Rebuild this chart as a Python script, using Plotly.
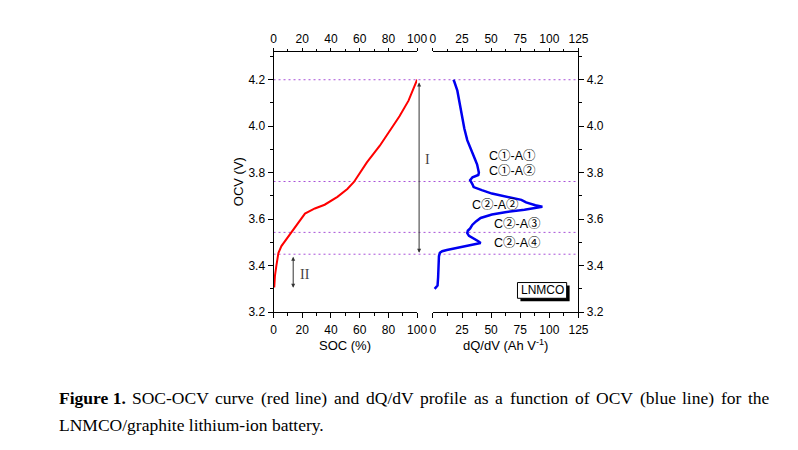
import plotly.graph_objects as go

# ---- data ----
soc = [0.5, 1, 2, 3.4, 5.5, 10.3, 15.1, 21.9, 28.8, 35.6, 44.5, 51.4, 56, 65, 74, 82, 87.7, 94, 100]
ocv = [3.306, 3.357, 3.40, 3.454, 3.484, 3.526, 3.57, 3.624, 3.646, 3.662, 3.696, 3.73, 3.76, 3.844, 3.916, 3.99, 4.043, 4.11, 4.2]

v_dq = [3.300, 3.305, 3.314, 3.35, 3.40, 3.44, 3.455, 3.462, 3.467, 3.475, 3.484, 3.49, 3.497, 3.505,
        3.518, 3.528, 3.54, 3.55, 3.56, 3.575, 3.59, 3.605, 3.62, 3.63, 3.64, 3.648, 3.653, 3.66,
        3.672, 3.683, 3.696, 3.71, 3.725, 3.738, 3.75, 3.758, 3.768, 3.78, 3.79, 3.80, 3.82, 3.835,
        3.86, 3.886, 3.91, 3.94, 3.99, 4.043, 4.10, 4.153, 4.19, 4.2]
dqdv = [1.5, 2.5, 4.0, 4.5, 4.8, 5.2, 6.0, 8.0, 12, 20, 30, 36, 41, 39,
        33.8, 31, 29.5, 30, 32, 33.8, 37, 41, 50.7, 62, 78.6, 90, 94, 88,
        80, 76, 65, 50.7, 42, 35, 34, 33, 32, 34, 39, 39.5, 38.5, 38,
        36, 33.7, 31.5, 29.5, 27, 25, 23, 21, 18.5, 17.7]

ref_v = [4.2, 3.762, 3.543, 3.449]
peak_labels = ["C①-A①", "C①-A②", "C②-A②", "C②-A③", "C②-A④"]
peak_x = [46.5, 46.5, 32.1, 50.7, 50.7]      # left edge, in dQ/dV units
peak_y = [3.87, 3.806, 3.662, 3.577, 3.497]

soc_ticks = [0, 20, 40, 60, 80, 100]
dq_ticks = [0, 25, 50, 75, 100, 125]
v_ticks = [3.2, 3.4, 3.6, 3.8, 4.0, 4.2]

caption_words = ["<b>Figure 1.</b>", "SOC-OCV", "curve", "(red", "line)", "and", "dQ/dV", "profile", "as",
                 "a", "function", "of", "OCV", "(blue", "line)", "for", "the"]
caption_line2 = "LNMCO/graphite lithium-ion battery."

W, H = 798, 450
px = lambda x: x / W
py = lambda y: 1 - y / H

SANS = "Liberation Sans Narrow, Liberation Sans, Arial"
TICKFONT = dict(family=SANS, size=12, color="black")

fig = go.Figure()
fig.add_trace(go.Scatter(x=soc, y=ocv, xaxis="x", yaxis="y", mode="lines",
                         line=dict(color="#ff0000", width=2), hoverinfo="skip"))
fig.add_trace(go.Scatter(x=dqdv, y=v_dq, xaxis="x2", yaxis="y2", mode="lines",
                         line=dict(color="#0000f0", width=2.5), hoverinfo="skip"))
# invisible traces to bind the top axes
fig.add_trace(go.Scatter(x=soc, y=ocv, xaxis="x3", yaxis="y", mode="lines",
                         line=dict(width=0), opacity=0, hoverinfo="skip"))
fig.add_trace(go.Scatter(x=dqdv, y=v_dq, xaxis="x4", yaxis="y2", mode="lines",
                         line=dict(width=0), opacity=0, hoverinfo="skip"))

yr = [3.2, 4.3186]
ydom = [py(317), py(53)]
xdom1 = [px(275), px(421)]
xdom2 = [px(437), px(585)]


def ax_style(tl, mtl, standoff=0):
    return dict(showline=True, linecolor="black", linewidth=1, ticks="outside", ticklen=tl,
                tickcolor="black", showgrid=False, zeroline=False, tickfont=TICKFONT,
                ticklabelstandoff=standoff)


def mnr(dt, t0, tl=3):
    return dict(ticks="outside", ticklen=tl, tickcolor="black", dtick=dt, tick0=t0)


fig.update_layout(
    width=W, height=H, margin=dict(l=0, r=0, t=0, b=0),
    paper_bgcolor="white", plot_bgcolor="rgba(0,0,0,0)", showlegend=False,
    xaxis=dict(domain=xdom1, range=[0, 100], anchor="y", side="bottom", tickvals=soc_ticks,
               minor=mnr(10, 0), **ax_style(5, 3, 2)),
    xaxis3=dict(domain=xdom1, range=[0, 100], anchor="y", side="top", overlaying="x", tickvals=soc_ticks,
                minor=mnr(10, 0, 2), **ax_style(3, 2)),
    xaxis2=dict(domain=xdom2, range=[0, 125], anchor="y2", side="bottom", tickvals=dq_ticks,
                minor=mnr(12.5, 0), **ax_style(5, 3, 2)),
    xaxis4=dict(domain=xdom2, range=[0, 125], anchor="y2", side="top", overlaying="x2", tickvals=dq_ticks,
                minor=mnr(12.5, 0, 2), **ax_style(3, 2)),
    yaxis=dict(domain=ydom, range=yr, anchor="x", side="left", tickvals=v_ticks, tickformat=".1f",
               minor=mnr(0.1, 3.2), **ax_style(5, 3)),
    yaxis2=dict(domain=ydom, range=yr, anchor="x2", side="right", tickvals=v_ticks, tickformat=".1f",
                minor=mnr(0.1, 3.2), **ax_style(5, 3)),
)

shapes = []
for v in ref_v:
    shapes.append(dict(type="line", xref="paper", yref="y", x0=px(275), x1=px(585), y0=v, y1=v,
                       line=dict(color="#a850d8", width=1, dash="2px,3px"), layer="below"))
# LNMCO box with shadow
shapes.append(dict(type="rect", xref="paper", yref="paper", x0=px(526), x1=px(576), y0=py(306), y1=py(290),
                   fillcolor="black", line=dict(width=0)))
shapes.append(dict(type="rect", xref="paper", yref="paper", x0=px(523), x1=px(573), y0=py(303), y1=py(287),
                   fillcolor="white", line=dict(color="black", width=1)))
fig.update_layout(shapes=shapes)

ann = []


def label(text, x, y, size, family=SANS, color="black", angle=0, xanchor="center"):
    ann.append(dict(text=text, x=x, y=y, xref="paper", yref="paper", showarrow=False,
                    xanchor=xanchor, yanchor="middle", textangle=angle,
                    font=dict(family=family, size=size, color=color)))


for t, x, y in zip(peak_labels, peak_x, peak_y):
    ann.append(dict(text=t, x=x, y=y, xref="x2", yref="y2", showarrow=False,
                    xanchor="left", yanchor="middle",
                    font=dict(family="Liberation Sans, Noto Sans CJK SC", size=12.5, color="black")))
label("LNMCO", px(548), py(295), 12)
# arrows
for xa, y_tip, y_tail in [(423, 3.455, 4.195), (295, 3.305, 3.445)]:
    ann.append(dict(x=px(xa), y=y_tip, xref="paper", yref="y", ax=0, ay=y_tail, axref="pixel", ayref="y",
                    showarrow=True, arrowhead=2, startarrowhead=2, arrowside="end+start", arrowsize=0.8,
                    arrowwidth=1, arrowcolor="#333333", text=""))
label("I", px(432), py(162), 14, family="Liberation Serif", color="#444444")
label("II", px(307), py(279), 14, family="Liberation Serif", color="#444444")
# axis titles
label("OCV (V)", px(239), py(185), 13, angle=-90)
label("SOC (%)", px(348), py(351), 13)
label("dQ/dV (Ah V<sup>-1</sup>)", px(511), py(350), 13)

# caption (justified first line, Times-metric widths)
TW = {' ': 250, 'a': 444, 'b': 500, 'c': 444, 'd': 500, 'e': 444, 'f': 333, 'g': 500, 'h': 500, 'i': 278,
      'j': 278, 'k': 500, 'l': 278, 'm': 778, 'n': 500, 'o': 500, 'p': 500, 'q': 500, 'r': 333, 's': 389,
      't': 278, 'u': 500, 'v': 500, 'w': 722, 'x': 500, 'y': 500, 'z': 444, 'A': 722, 'C': 667, 'D': 722,
      'F': 556, 'L': 611, 'M': 889, 'N': 722, 'O': 722, 'Q': 722, 'S': 556, 'V': 722, '-': 333, '(': 333,
      ')': 333, '/': 278, '.': 250, '1': 500}
BW = {'F': 611, 'i': 278, 'g': 500, 'u': 556, 'r': 444, 'e': 444, ' ': 250, '1': 500, '.': 250}
CAP = 17.5
x_left, x_right = 55, 777


def wwidth(w):
    if w.startswith("<b>"):
        s = w[3:-4]
        return sum(BW.get(c, 500) for c in s) * CAP / 1000
    return sum(TW.get(c, 500) for c in w) * CAP / 1000


widths = [wwidth(w) for w in caption_words]
gap = (x_right - x_left - sum(widths)) / (len(caption_words) - 1)
xc = x_left
for w, wd in zip(caption_words, widths):
    label(w, px(xc), py(404), CAP, family="Liberation Serif", xanchor="left")
    xc += wd + gap
label(caption_line2, px(x_left), py(432), CAP, family="Liberation Serif", xanchor="left")
fig.update_layout(annotations=ann)

fig.write_html("out.html")
